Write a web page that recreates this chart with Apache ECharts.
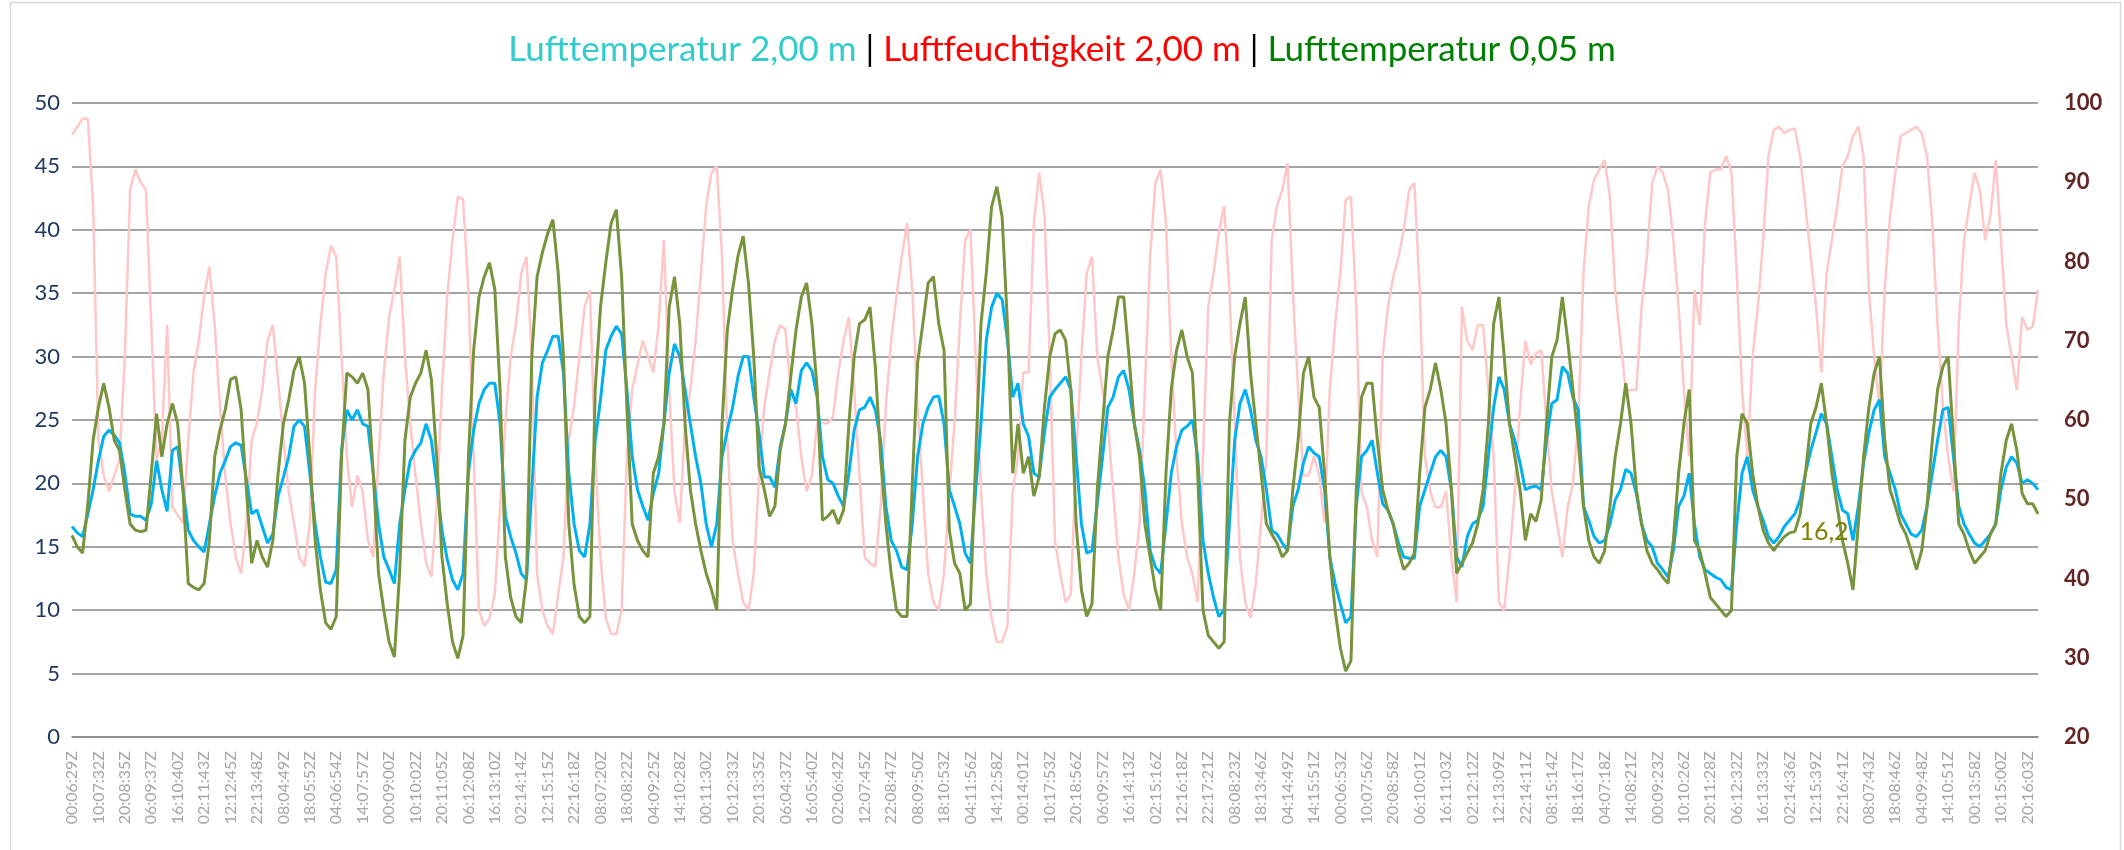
<!DOCTYPE html>
<html>
<head>
<meta charset="utf-8">
<script src="https://cdn.jsdelivr.net/npm/echarts@6/dist/echarts.min.js"></script>
<style>
  html, body { margin: 0; padding: 0; background: #fff; }
  #chart { width: 2124px; height: 850px; }
</style>
</head>
<body>
<div id="chart"></div>
<script>
// tick labels, one every 5 samples (10 h)
var tickLabels = [
  '00:06:29Z','10:07:32Z','20:08:35Z','06:09:37Z','16:10:40Z','02:11:43Z','12:12:45Z','22:13:48Z',
  '08:04:49Z','18:05:52Z','04:06:54Z','14:07:57Z','00:09:00Z','10:10:02Z','20:11:05Z','06:12:08Z',
  '16:13:10Z','02:14:14Z','12:15:15Z','22:16:18Z','08:07:20Z','18:08:22Z','04:09:25Z','14:10:28Z',
  '00:11:30Z','10:12:33Z','20:13:35Z','06:04:37Z','16:05:40Z','02:06:42Z','12:07:45Z','22:08:47Z',
  '08:09:50Z','18:10:53Z','04:11:56Z','14:12:58Z','00:14:01Z','10:17:53Z','20:18:56Z','06:09:57Z',
  '16:14:13Z','02:15:16Z','12:16:18Z','22:17:21Z','08:08:23Z','18:13:46Z','04:14:49Z','14:15:51Z',
  '00:06:53Z','10:07:56Z','20:08:58Z','06:10:01Z','16:11:03Z','02:12:12Z','12:13:09Z','22:14:11Z',
  '08:15:14Z','18:16:17Z','04:07:18Z','14:08:21Z','00:09:23Z','10:10:26Z','20:11:28Z','06:12:32Z',
  '16:13:33Z','02:14:36Z','12:15:39Z','22:16:41Z','08:07:43Z','18:08:46Z','04:09:48Z','14:10:51Z',
  '00:13:58Z','10:15:00Z','20:16:03Z'
];

// Lufttemperatur 2,00 m (°C), 2 h steps
var t200 = [
  16.6,16.1,15.8,17.6,19.5,21.8,23.7,24.2,23.8,23.2,
  20.8,17.6,17.4,17.4,17.1,18.4,21.8,19.5,17.8,22.6,
  22.9,19.5,16.3,15.5,15.0,14.6,16.8,19.0,20.8,21.8,
  22.9,23.2,23.0,20.3,17.6,17.9,16.6,15.3,16.0,19.0,
  20.5,22.1,24.5,25.0,24.5,20.8,16.8,14.2,12.2,12.1,
  13.2,22.6,25.8,25.0,25.8,24.7,24.5,20.8,16.8,14.2,
  13.2,12.1,16.8,19.5,21.8,22.6,23.2,24.7,23.4,20.0,
  16.3,14.0,12.4,11.6,12.9,20.8,24.2,26.3,27.4,27.9,
  27.9,24.7,17.4,15.8,14.5,12.9,12.4,19.5,26.8,29.5,
  30.5,31.6,31.6,28.7,20.8,16.8,14.7,14.2,16.8,23.4,
  26.6,30.5,31.6,32.4,31.8,27.4,22.1,19.5,18.2,17.1,
  19.2,20.8,24.7,28.7,31.0,30.0,27.4,24.7,22.1,20.0,
  16.8,15.0,16.8,22.1,24.2,26.0,28.4,30.0,30.0,26.8,
  24.0,20.5,20.5,19.7,22.9,24.7,27.4,26.3,28.9,29.5,
  28.9,26.8,22.1,20.3,20.0,19.0,18.2,20.8,24.2,25.8,
  26.0,26.8,25.8,23.4,18.2,15.5,14.7,13.4,13.2,16.8,
  22.1,24.7,26.0,26.8,26.9,24.7,19.5,18.2,16.8,14.5,
  13.7,19.5,24.7,31.3,33.9,35.0,34.5,31.3,26.8,27.9,
  24.7,23.7,20.8,20.5,24.0,26.8,27.4,27.9,28.4,27.4,
  22.1,16.8,14.5,14.7,18.4,22.1,26.0,26.8,28.4,28.9,
  27.4,24.7,22.6,19.5,14.7,13.4,12.9,16.8,20.8,22.9,
  24.2,24.5,25.0,22.1,15.5,12.9,11.0,9.5,10.0,16.8,
  23.4,26.3,27.4,25.8,23.4,22.1,19.5,16.3,16.0,15.3,
  14.7,18.2,19.5,21.6,22.9,22.4,22.1,19.5,14.2,12.1,
  10.5,9.0,9.5,18.2,22.1,22.6,23.4,20.8,18.4,17.9,
  16.8,15.3,14.2,14.1,14.1,18.2,19.5,20.8,22.1,22.6,
  22.1,19.5,14.2,13.4,15.8,16.8,17.1,18.2,22.1,26.0,
  28.4,27.4,24.7,23.4,21.6,19.5,19.7,19.8,19.5,23.4,
  26.3,26.6,29.2,28.7,26.8,25.8,18.2,17.1,15.8,15.3,
  15.5,16.8,18.7,19.5,21.1,20.8,19.2,16.8,15.5,15.0,
  13.7,13.2,12.6,14.7,18.2,19.0,20.8,16.8,14.2,13.2,
  12.9,12.6,12.4,11.8,11.6,16.8,20.8,22.1,19.5,18.2,
  17.1,15.8,15.3,15.8,16.6,17.1,17.6,18.7,20.8,22.6,
  24.0,25.5,24.7,22.1,19.5,17.9,17.6,15.5,18.2,21.6,
  24.0,25.8,26.6,22.1,20.8,19.5,17.6,16.8,16.0,15.8,
  16.3,18.2,20.8,23.4,25.8,26.0,22.1,18.2,16.8,16.0,
  15.3,15.0,15.5,16.0,16.8,19.5,21.3,22.1,21.6,20.0,
  20.3,20.0,19.5
];

// Luftfeuchtigkeit 2,00 m (%), right axis
var rh200 = [
  96,97,98,98,87,57.5,53,51,53,55,
  68,89,91.6,90,89,72,55,57.5,72,49,
  48,47,57.5,66,70,75.6,79.4,72,61.7,53,
  47,42.7,40.6,47,57.5,59.6,63.8,70,72,65,
  57.5,51,47,42.7,41.5,47,63.8,72,78.5,82,
  80.6,68,55.4,49,53,51,44.8,42.7,55.4,66,
  73,76.4,80.6,68,59.6,53,47,42,40.2,49,
  63.8,75.6,82.7,88.2,87.8,76.4,55.4,36,34,35,
  38,49,59.6,68,72,78.5,80.6,68,40.6,36,
  34,33,38,42.7,57.5,61.7,68,74.3,76.4,55.4,
  42.7,35,33,33,36,55.4,63.8,67,70,68,
  66,72,82.7,63.8,51,47,59.6,63.8,70,78.5,
  87,91.2,92,80.6,57.5,44.8,40.6,37,36,40.6,
  53,61.7,66,70,72,71.4,63.8,61.7,55.4,51,
  53,59.6,59.6,59.6,60.4,66,70,73,63.8,53,
  42.7,41.9,41.5,49,61.7,70,75.6,80.6,84.8,76.4,
  61.7,51,40.6,37,36,40.6,51,59.6,72,82.7,
  84,68,51,40.6,35,32,32,34,51,55.4,
  66,66,84.8,91.2,86,68,44.8,40.6,37,38,
  55.4,68,78.5,80.6,68,63.8,59.6,51,42.7,38,
  36,40.6,47,63.8,80.6,89.9,91.6,84.8,68,55.4,
  47,42.7,40.6,37,55.4,74.3,78.5,83.6,87,76.4,
  59.6,42.7,37,35,39.4,47,55.4,82.7,87,89,
  92.4,76.4,63.8,53,53,55.4,53,47,63.8,72,
  78.5,87.8,88.2,74.3,51,49,44.8,42.7,68,74.3,
  78,80.6,84,89,89.9,76.4,55.4,51,49,49,
  51,42.7,37,74.3,70,68.8,72,72,63.8,55.4,
  37,36,42.7,51,61.7,70,67,68.4,68.8,59.6,
  51,47,42.7,49,52,59.6,78.5,87,90.3,91.6,
  92.8,88.2,76.4,70,63.8,63.8,63.8,74.3,80.6,89.9,
  92,91.2,89,82.7,74.3,63.8,55.4,76.4,72,84.8,
  91.2,91.6,91.6,93.3,91.2,78.5,63.8,55.4,68,74.3,
  82.7,93.3,96.6,97,96.2,96.6,96.8,93.3,87,80.6,
  74.3,66,78.5,82.7,87,92,93.3,95.8,97,93.3,
  76.4,68,61.7,76.4,85.7,91.2,95.8,96.2,96.6,97,
  96.2,93.3,84.8,72,61.7,55.4,51,72,82.7,87,
  91.2,89,82.7,85.7,92.8,82.7,72,68,63.8,73,
  71.4,71.8,76.4
];

// Lufttemperatur 0,05 m (°C)
var t005 = [
  15.9,15.0,14.5,18.4,23.4,26.0,27.9,26.0,23.4,22.6,
  19.5,16.8,16.3,16.2,16.3,20.8,25.5,22.1,24.7,26.3,
  24.7,19.5,12.1,11.8,11.6,12.1,15.5,22.1,24.2,25.8,
  28.2,28.4,25.8,19.5,13.7,15.5,14.2,13.4,15.5,20.8,
  24.7,26.6,28.9,30.0,27.9,22.1,15.5,11.6,9.0,8.5,
  9.5,22.1,28.7,28.4,27.9,28.7,27.4,20.8,12.9,10.0,
  7.5,6.3,13.0,23.4,26.8,27.9,28.7,30.5,28.2,22.1,
  14.2,10.5,7.5,6.2,8.0,22.0,30.5,34.7,36.3,37.4,
  35.3,27.4,14.2,11.0,9.5,9.0,12.5,30.0,36.3,38.2,
  39.7,40.8,36.6,30.0,16.8,12.0,9.5,9.0,9.5,27.4,
  33.9,37.4,40.5,41.6,36.3,26.0,16.8,15.5,14.7,14.2,
  20.8,22.1,24.7,33.9,36.3,32.6,24.7,19.5,16.8,14.7,
  12.9,11.6,10.0,24.7,32.1,35.3,37.9,39.5,35.8,30.0,
  21.3,19.5,17.4,18.2,22.6,24.7,28.4,32.1,34.7,35.8,
  32.6,27.4,17.1,17.4,17.9,16.8,17.9,24.7,30.0,32.6,
  32.9,33.9,29.2,22.1,16.8,12.9,10.0,9.5,9.5,20.0,
  29.5,32.6,35.8,36.3,32.6,30.5,16.3,13.7,12.9,10.0,
  10.5,22.1,32.6,36.6,41.8,43.4,41.0,32.6,20.8,24.7,
  20.8,22.1,19.0,20.5,26.0,30.0,31.8,32.1,31.3,27.4,
  16.8,11.6,9.5,10.5,19.5,24.7,30.0,32.1,34.7,34.7,
  30.0,24.7,22.1,16.8,14.2,11.6,10.0,20.8,27.4,30.5,
  32.1,30.0,28.7,20.8,10.0,8.0,7.5,7.0,7.5,24.7,
  30.0,32.6,34.7,28.7,24.7,20.8,16.8,16.0,15.3,14.2,
  14.7,19.5,23.4,28.7,30.0,26.8,26.0,20.8,14.2,10.0,
  7.0,5.2,6.0,19.5,26.8,27.9,27.9,23.4,19.5,17.9,
  16.8,14.7,13.2,13.7,14.5,20.8,26.0,27.4,29.5,27.4,
  24.7,19.5,12.9,13.7,14.5,15.3,16.8,19.5,24.7,32.6,
  34.7,30.0,24.7,22.1,19.5,15.5,17.6,17.0,18.7,24.7,
  30.0,31.3,34.7,31.3,27.4,23.4,18.2,15.5,14.2,13.7,
  14.7,18.2,22.1,24.7,27.9,24.7,19.5,16.8,14.7,13.7,
  13.2,12.6,12.1,15.5,20.8,24.7,27.4,15.5,14.7,12.9,
  11.0,10.5,10.0,9.5,10.0,22.1,25.5,24.7,20.8,18.2,
  16.3,15.3,14.7,15.3,15.8,16.1,16.2,17.6,20.8,24.7,
  26.0,27.9,24.7,20.8,18.2,15.5,13.7,11.6,16.8,22.1,
  26.0,28.7,30.0,23.4,19.5,18.2,16.8,16.0,14.7,13.2,
  14.7,18.2,23.4,27.4,29.2,30.0,23.4,16.8,16.0,14.7,
  13.7,14.2,14.7,16.0,16.8,20.8,23.4,24.7,22.6,19.2,
  18.4,18.4,17.6
];

var labelIndex = 326;   // sample carrying the "16,2" data label
var tickStep = 5;
var font = 'Lato';

var categories = t200.map(function (v, i) { return String(i); });

var t005Data = t005.map(function (v, i) {
  if (i !== labelIndex) return v;
  return {
    value: v,
    symbol: 'circle',
    symbolSize: 1,
    label: {
      show: true,
      position: 'right',
      distance: 4,
      color: '#7F7F00',
      fontSize: 25,
      fontFamily: font,
      formatter: function (p) { return String(p.value).replace('.', ','); }
    }
  };
});

var chart = echarts.init(document.getElementById('chart'), null, { renderer: 'canvas' });

var option = {
  animation: false,
  backgroundColor: '#fff',
  title: {
    left: 'center',
    top: 27,
    text: '{a|Lufttemperatur 2,00 m} {s||} {b|Luftfeuchtigkeit 2,00 m} {s||} {c|Lufttemperatur 0,05 m}',
    textStyle: {
      fontFamily: font,
      fontSize: 35,
      fontWeight: 'normal',
      rich: {
        a: { color: '#33CCCC', fontSize: 35, fontFamily: font, fontWeight: 'normal' },
        b: { color: '#FF0000', fontSize: 35, fontFamily: font, fontWeight: 'normal' },
        c: { color: '#008000', fontSize: 35, fontFamily: font, fontWeight: 'normal' },
        s: { color: '#000000', fontSize: 35, fontFamily: font, fontWeight: 'normal' }
      }
    }
  },
  grid: { left: 72, right: 86, top: 103, bottom: 113, containLabel: false },
  xAxis: {
    type: 'category',
    data: categories,
    boundaryGap: false,
    axisLine: { show: true, lineStyle: { color: '#868686', width: 1.5 } },
    axisTick: { show: false },
    splitLine: { show: false },
    axisLabel: {
      interval: tickStep - 1,
      rotate: 90,
      margin: 14,
      color: '#A6A6A6',
      fontSize: 16,
      fontFamily: font,
      formatter: function (v, idx) { return tickLabels[idx / tickStep] || ''; }
    }
  },
  yAxis: [
    {
      type: 'value',
      min: 0, max: 50, interval: 5,
      axisLine: { show: false },
      axisTick: { show: false },
      splitLine: { show: true, lineStyle: { color: '#868686', width: 1.5 } },
      axisLabel: { color: '#1F3864', fontSize: 22, fontFamily: font, margin: 12 }
    },
    {
      type: 'value',
      min: 20, max: 100, interval: 10,
      position: 'right',
      axisLine: { show: false },
      axisTick: { show: false },
      splitLine: { show: false },
      axisLabel: { color: '#632523', fontSize: 22, fontWeight: 'bold', fontFamily: font, margin: 26 }
    }
  ],
  series: [
    {
      name: 'Luftfeuchtigkeit 2,00 m',
      type: 'line',
      yAxisIndex: 1,
      data: rh200,
      showSymbol: false,
      lineStyle: { color: '#FFC7C7', width: 2.5 },
      itemStyle: { color: '#FFC7C7' },
      z: 1
    },
    {
      name: 'Lufttemperatur 2,00 m',
      type: 'line',
      data: t200,
      showSymbol: false,
      lineStyle: { color: '#00B0F0', width: 3 },
      itemStyle: { color: '#00B0F0' },
      z: 2
    },
    {
      name: 'Lufttemperatur 0,05 m',
      type: 'line',
      data: t005Data,
      showSymbol: true,
      showAllSymbol: true,
      symbol: 'none',
      lineStyle: { color: '#77933C', width: 3 },
      itemStyle: { color: '#77933C' },
      z: 3
    }
  ],
  graphic: [
    {
      type: 'rect',
      left: 8, top: 0,
      shape: { width: 2110, height: 849 },
      style: { fill: 'none', stroke: '#D9D9D9', lineWidth: 1.5 },
      silent: true
    }
  ]
};

chart.setOption(option);
</script>
</body>
</html>
